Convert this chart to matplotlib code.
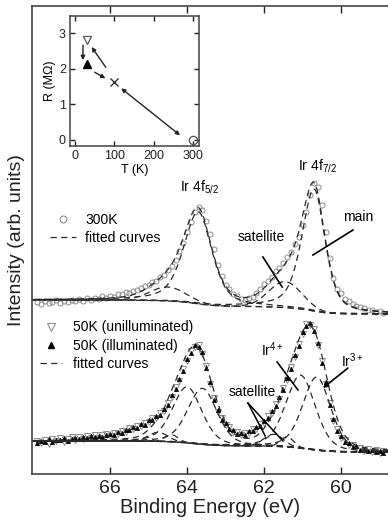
import numpy as np
import matplotlib
matplotlib.use('Agg')
import matplotlib.pyplot as plt
from matplotlib.lines import Line2D

plt.rcParams['font.family'] = ['Liberation Sans', 'DejaVu Sans']
plt.rcParams['mathtext.fontset'] = 'custom'
plt.rcParams['mathtext.rm'] = 'Liberation Sans'
plt.rcParams['mathtext.it'] = 'Liberation Sans:italic'

energy = np.round(np.arange(67.9, 58.85, -0.1), 1)

int_300K = [172, 170, 173, 171, 172, 174, 171, 173, 172, 174,
            173, 175, 173, 176, 174, 176, 175, 178, 176, 178,
            177, 180, 180, 182, 181, 183, 184, 186, 188, 189,
            192, 193, 197, 199, 204, 208, 214, 223, 231, 242,
            252, 262, 267, 264, 253, 240, 225, 209, 198, 189,
            185, 180, 178, 175, 174, 176, 177, 181, 185, 190,
            193, 197, 203, 206, 211, 217, 222, 230, 237, 249,
            262, 279, 291, 287, 269, 242, 216, 196, 185, 181,
            175, 173, 170, 168, 167, 166, 164, 164, 162, 163, 161]

int_50K_dark = [33, 31, 34, 30, 35, 33, 36, 32, 35, 37,
                34, 37, 35, 38, 36, 39, 36, 39, 40, 38,
                41, 40, 43, 42, 46, 45, 48, 48, 51, 52,
                56, 56, 61, 63, 71, 77, 87, 93, 105, 113,
                123, 127, 129, 120, 108, 90, 76, 62, 56, 49,
                47, 42, 42, 39, 41, 41, 45, 45, 50, 51,
                58, 61, 70, 75, 86, 94, 107, 117, 130, 140,
                150, 149, 145, 129, 113, 90, 71, 53, 45, 36,
                34, 29, 29, 26, 26, 23, 25, 22, 24, 21, 23]

int_50K_light = [31, 33, 32, 35, 32, 34, 34, 36, 33, 35,
                 36, 35, 37, 36, 38, 37, 38, 37, 39, 40,
                 39, 42, 41, 44, 44, 47, 46, 50, 49, 54,
                 54, 58, 59, 65, 69, 79, 85, 95, 103, 115,
                 121, 129, 127, 122, 106, 92, 74, 64, 54, 51,
                 45, 44, 40, 41, 39, 43, 43, 47, 48, 53,
                 56, 63, 68, 77, 84, 96, 105, 119, 128, 142,
                 148, 151, 143, 131, 111, 92, 69, 55, 43, 38,
                 32, 31, 27, 28, 24, 25, 23, 24, 22, 23, 21]

# ---- fitted components (pseudo-Voigt peaks on a Shirley background)
top_center = [63.71, 64.50, 60.70, 61.45]
top_height = [92, 14, 122, 26]
top_hw_hi = [0.45, 0.55, 0.38, 0.50]
top_hw_lo = [0.42, 0.55, 0.34, 0.50]
top_eta = [0.5, 0.0, 0.5, 0.0]
top_bg = (174, 160)

bot_center = [64.00, 63.60, 61.05, 60.63, 64.75, 64.40, 61.75, 61.40]
bot_height = [56, 56, 73, 73, 9, 7, 12, 10]
bot_hw = [0.45, 0.45, 0.45, 0.43, 0.30, 0.20, 0.30, 0.20]
bot_eta = [0.3, 0.3, 0.3, 0.3, 0.0, 0.0, 0.0, 0.0]
bot_bg = (33, 22)

# ---- inset: resistance vs temperature
inset_T = [30, 30, 100, 300]
inset_R = [2.80, 2.12, 1.62, 0.0]


def peak(E, c, h, w_hi, w_lo, eta):
    w = np.where(E >= c, w_hi, w_lo)
    x = (E - c) / w
    return h * ((1 - eta) * np.exp(-np.log(2) * x ** 2) + eta / (1 + x ** 2))


def shirley(E, total, b_hi, b_lo):
    cum = np.cumsum(total)
    return b_lo + (b_hi - b_lo) * cum / cum[-1]


E_fit = np.linspace(58.7, 68.1, 800)

top_comp = [peak(E_fit, c, h, a, b, e) for c, h, a, b, e in
            zip(top_center, top_height, top_hw_hi, top_hw_lo, top_eta)]
top_back = shirley(E_fit, sum(top_comp), *top_bg)

bot_comp = [peak(E_fit, c, h, w, w, e) for c, h, w, e in
            zip(bot_center, bot_height, bot_hw, bot_eta)]
bot_back = shirley(E_fit, sum(bot_comp), *bot_bg)

fig = plt.figure(figsize=(3.88, 5.25), dpi=100)
ax = fig.add_axes([32 / 388, 1 - 474 / 525, 356 / 388, 468 / 525])

dash = dict(color='#2a2a2a', lw=0.9, ls=(0, (5, 3.5)))

# top spectrum
ax.plot(energy, int_300K, 'o', ms=3.6, mfc='none', mec='#8c8c8c', mew=0.7)
ax.plot(E_fit, top_back, **dash)
for comp in top_comp:
    ax.plot(E_fit, top_back + comp, **dash)
ax.plot(E_fit, top_back + sum(top_comp), **dash)

# bottom spectra
ax.plot(energy, int_50K_dark, 'v', ms=4.2, mfc='none', mec='#8c8c8c', mew=0.7)
ax.plot(energy, int_50K_light, '^', ms=3.0, mfc='k', mec='k', mew=0.5)
ax.plot(E_fit, bot_back, **dash)
for comp in bot_comp:
    ax.plot(E_fit, bot_back + comp, **dash)
ax.plot(E_fit, bot_back + sum(bot_comp), **dash)

ax.set_xlim(68.03, 58.78)
ax.set_ylim(0, 468)
ax.set_xticks([66, 64, 62, 60])
ax.set_yticks([])
ax.tick_params(axis='x', direction='in', top=True, length=5, width=1,
               labelsize=14, pad=4, colors='#222')
ax.spines['right'].set_visible(False)
for s in ['left', 'bottom', 'top']:
    ax.spines[s].set_linewidth(1.2)
    ax.spines[s].set_color('#444')
ax.set_xlabel('Binding Energy (eV)', fontsize=14.5, labelpad=1, color='#222')
ax.set_ylabel('Intensity (arb. units)', fontsize=14, labelpad=5, color='#222')

# legends
h_top = [Line2D([], [], ls='none', marker='o', ms=5, mfc='none', mec='#8c8c8c', mew=0.8),
         Line2D([], [], **dash)]
leg1 = ax.legend(h_top, ['300K', 'fitted curves'], loc='upper left',
                 bbox_to_anchor=(0.05, 0.558), frameon=False, fontsize=10,
                 handlelength=1.9, handletextpad=0.65, labelspacing=0.3,
                 borderpad=0, borderaxespad=0)
ax.add_artist(leg1)
h_bot = [Line2D([], [], ls='none', marker='v', ms=6, mfc='none', mec='#8c8c8c', mew=0.8),
         Line2D([], [], ls='none', marker='^', ms=5, mfc='k', mec='k'),
         Line2D([], [], **dash)]
ax.legend(h_bot, ['50K (unilluminated)', '50K (illuminated)', 'fitted curves'],
          loc='upper left', bbox_to_anchor=(0.022, 0.328), frameon=False,
          fontsize=10, handlelength=1.6, handletextpad=0.8, labelspacing=0.3,
          borderpad=0, borderaxespad=0)

# labels and pointers
ax.text(63.68, 287, 'Ir 4f$_\\mathregular{5/2}$', ha='center', va='center', fontsize=10)
ax.text(60.62, 308, 'Ir 4f$_\\mathregular{7/2}$', ha='center', va='center', fontsize=10)
ax.text(62.08, 237, 'satellite', ha='center', va='center', fontsize=10)
ax.plot([62.03, 61.53], [217, 187], color='k', lw=1.2)
ax.text(59.56, 257, 'main', ha='center', va='center', fontsize=10)
ax.plot([59.69, 60.73], [244, 219], color='k', lw=1.2)

ax.text(61.77, 124, 'Ir$^\\mathregular{4+}$', ha='center', va='center', fontsize=10)
ax.plot([61.66, 61.12], [112, 84], color='k', lw=1.2)
ax.text(59.71, 113, 'Ir$^\\mathregular{3+}$', ha='center', va='center', fontsize=10)
ax.annotate('', xy=(60.47, 86), xytext=(59.82, 106),
            arrowprops=dict(arrowstyle='-|>', color='k', lw=1.2,
                            mutation_scale=7, shrinkA=0, shrinkB=0))
ax.text(62.31, 82, 'satellite', ha='center', va='center', fontsize=10)
ax.plot([62.42, 61.97], [71, 38], color='k', lw=1.1)
ax.plot([62.42, 61.51], [71, 33], color='k', lw=1.1)

# inset
ax2 = fig.add_axes([70 / 388, 1 - 146 / 525, 129 / 388, 130 / 525])
ax2.plot(inset_T[0], inset_R[0], 'v', ms=6, mfc='none', mec='#555', mew=0.9)
ax2.plot(inset_T[1], inset_R[1], '^', ms=6, mfc='k', mec='k')
ax2.plot(inset_T[2], inset_R[2], 'x', ms=6, color='#333', mew=1.0)
ax2.plot(inset_T[3], inset_R[3], 'o', ms=6, mfc='none', mec='#555', mew=0.9)
arr = dict(arrowstyle='-|>', color='#222', lw=1.0, mutation_scale=6,
           shrinkA=0, shrinkB=0)
ax2.annotate('', xy=(42, 2.61), xytext=(78, 2.04), arrowprops=arr)
ax2.annotate('', xy=(20, 2.24), xytext=(20, 2.66), arrowprops=arr)
ax2.annotate('', xy=(77, 1.73), xytext=(50, 1.90), arrowprops=arr)
ax2.annotate('', xy=(267, 0.13), xytext=(117, 1.45),
             arrowprops=dict(arr, arrowstyle='<|-|>'))
ax2.set_xlim(-13, 315)
ax2.set_ylim(-0.17, 3.48)
ax2.set_xticks([0, 100, 200, 300])
ax2.set_yticks([0, 1, 2, 3])
ax2.tick_params(direction='in', top=True, right=True, length=3.5, width=1,
                labelsize=9, pad=3, colors='#222')
for s in ax2.spines.values():
    s.set_linewidth(1.1)
    s.set_color('#444')
ax2.set_xlabel('T (K)', fontsize=9, labelpad=1)
ax2.set_ylabel('R (M\u03a9)', fontsize=9, labelpad=2)

fig.savefig('out.png', dpi=100)
